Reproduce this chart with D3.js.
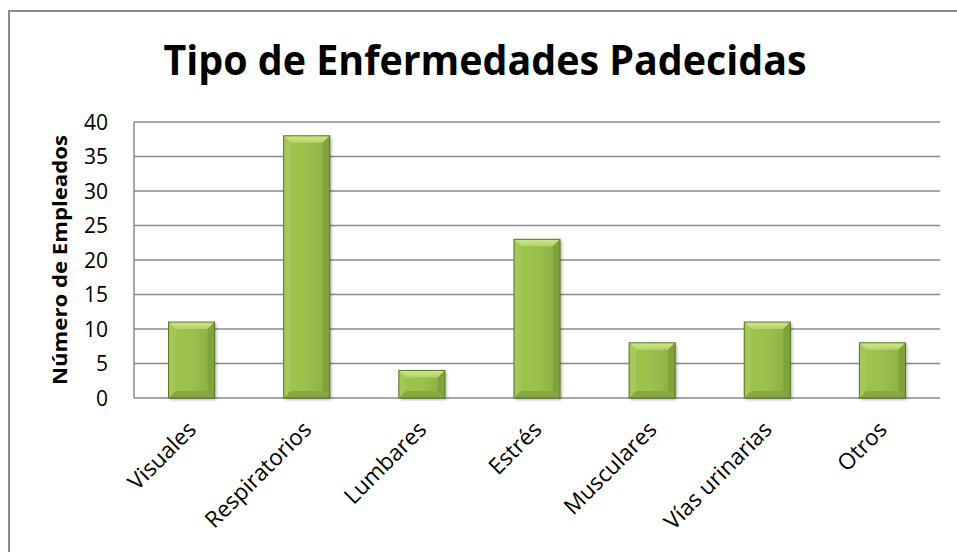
<!DOCTYPE html>
<html><head><meta charset="utf-8">
<script src="https://cdn.jsdelivr.net/npm/d3@7"></script>
<style>html,body{margin:0;padding:0;background:#fff;}svg{display:block;}</style>
</head><body>
<svg id="c" width="957" height="552"></svg>
<script>
const categories = ["Visuales","Respiratorios","Lumbares","Estrés","Musculares","Vías urinarias","Otros"];
const values = [11,38,4,23,8,11,8];
const yTicks = [0,5,10,15,20,25,30,35,40];
const titleText = "Tipo de Enfermedades Padecidas";
const yTitle = "Número de Empleados";

const svg = d3.select("#c");
const font = "'Open Sans', 'Noto Sans', sans-serif";

// outer frame
svg.append("path").attr("d","M9,552 L9,11 L957,11").attr("fill","none").attr("stroke","#8c8c8c").attr("stroke-width",2);

const x0=134, x1=940, yTop=122, yBot=398;
const x = d3.scaleBand().domain(categories).range([x0,x1]).paddingInner(0.6).paddingOuter(0.3);
const y = d3.scaleLinear().domain([0,40]).range([yBot,yTop]);

const defs = svg.append("defs");
const g1 = defs.append("linearGradient").attr("id","gBar").attr("x1","0").attr("x2","1").attr("y1","0").attr("y2","0");
g1.append("stop").attr("offset","0").attr("stop-color","#9ec44c");
g1.append("stop").attr("offset","0.5").attr("stop-color","#9cc04d");
g1.append("stop").attr("offset","1").attr("stop-color","#8aac40");
const gt = defs.append("linearGradient").attr("id","gTop").attr("x1","0").attr("x2","0").attr("y1","0").attr("y2","1");
gt.append("stop").attr("offset","0").attr("stop-color","#cde88a");
gt.append("stop").attr("offset","1").attr("stop-color","#b2d468");
const f = defs.append("filter").attr("id","sh").attr("x","-20%").attr("y","-5%").attr("width","150%").attr("height","115%");
f.append("feDropShadow").attr("dx",1.5).attr("dy",1.5).attr("stdDeviation",1.5).attr("flood-color","#000").attr("flood-opacity",0.35);

// gridlines
svg.append("g").selectAll("line").data(yTicks).join("line")
  .attr("x1",x0).attr("x2",x1).attr("y1",d=>y(d)).attr("y2",d=>y(d))
  .attr("stroke","#8a8a8a").attr("stroke-width",1.5);
svg.append("line").attr("x1",x0).attr("x2",x0).attr("y1",yTop).attr("y2",yBot).attr("stroke","#8a8a8a").attr("stroke-width",1.5);

// y tick labels
svg.append("g").selectAll("text").data(yTicks).join("text")
  .attr("x",108).attr("y",d=>y(d)+7.5).attr("text-anchor","end")
  .attr("font-family",font).attr("font-size",21).attr("fill","#000").text(d=>d);

// bars
const bw = x.bandwidth();
const bars = svg.append("g").selectAll("g").data(values).join("g");
bars.each(function(v,i){
  const g=d3.select(this);
  const bx=x(categories[i]), by=y(v), bh=yBot-by, w=bw;
  const b=Math.min(7,bh/2);
  g.append("rect").attr("x",bx).attr("y",by).attr("width",w).attr("height",bh)
    .attr("fill","url(#gBar)").attr("filter","url(#sh)");
  g.append("path").attr("d",`M${bx},${by} L${bx+w},${by} L${bx+w-b},${by+b} L${bx+b},${by+b} Z`).attr("fill","url(#gTop)");
  g.append("path").attr("d",`M${bx},${by} L${bx+b},${by+b} L${bx+b},${by+bh-b} L${bx},${by+bh} Z`).attr("fill","#a4c95a");
  g.append("path").attr("d",`M${bx+w},${by} L${bx+w-b},${by+b} L${bx+w-b},${by+bh-b} L${bx+w},${by+bh} Z`).attr("fill","#80a23a");
  g.append("path").attr("d",`M${bx},${by+bh} L${bx+b},${by+bh-b} L${bx+w-b},${by+bh-b} L${bx+w},${by+bh} Z`).attr("fill","#86a83e");
  g.append("rect").attr("x",bx).attr("y",by).attr("width",w).attr("height",bh)
    .attr("fill","none").attr("stroke","#5a7624").attr("stroke-width",1);
});

// x labels
svg.append("g").selectAll("text").data(categories).join("text")
  .attr("transform",d=>`translate(${x(d)+bw/2+6},${431}) rotate(-45)`)
  .attr("text-anchor","end")
  .attr("font-family",font).attr("font-size",22.5).attr("fill","#000").text(d=>d);

// title
svg.append("text").attr("x",485).attr("y",75).attr("text-anchor","middle")
  .attr("font-family",font).attr("font-weight","bold").attr("font-size",41)
  .attr("textLength",643).attr("lengthAdjust","spacingAndGlyphs").text(titleText);

// y title
svg.append("text").attr("transform","translate(67,260) rotate(-90)").attr("text-anchor","middle")
  .attr("font-family",font).attr("font-weight","bold").attr("font-size",20)
  .attr("textLength",250).attr("lengthAdjust","spacingAndGlyphs").text(yTitle);
</script>
</body></html>
